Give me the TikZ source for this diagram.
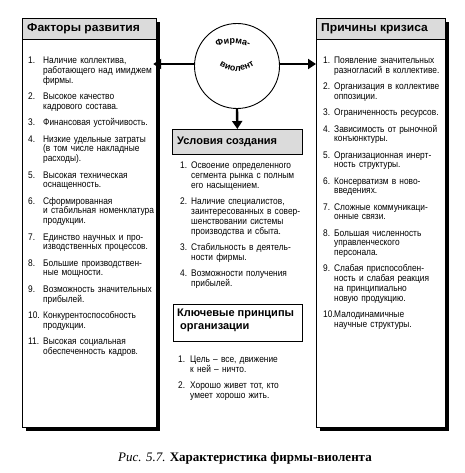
\documentclass[tikz,border=0pt]{standalone}
\usepackage{fontspec}
\setmainfont{Liberation Serif}
\newfontfamily\narrowsans[FakeStretch=0.87]{Liberation Sans}
\newfontfamily\widesans{Liberation Sans}
\newfontfamily\broadsans[FakeStretch=1.05]{Liberation Sans}
\usetikzlibrary{arrows.meta,decorations.text,shadows,positioning}

\newlength\numwd
\newcommand\listentry[2]{\hangindent=\numwd\hangafter=1\noindent
  \hbox to\numwd{#1\hfil}#2\par}
\newcommand\listfont{\narrowsans\fontsize{9.6}{9.8}\selectfont}
\newcommand\headfont{\widesans\bfseries\fontsize{11}{13}\selectfont}
\newcommand\sidefont{\broadsans\bfseries\fontsize{11.5}{14}\selectfont}
\newcommand\circfont{\widesans\bfseries\fontsize{9}{10}\selectfont}

\begin{document}
\begin{tikzpicture}[x=1pt, y=-1pt, >=Stealth,
  panel/.style={draw, fill=white, line width=0.7pt, anchor=north west, inner sep=0pt,
    drop shadow={shadow xshift=3.5pt, shadow yshift=-3.5pt, fill=black, opacity=1}},
  headband/.style={draw, line width=0.7pt, fill=black!14},
  headtext/.style={anchor=west, inner sep=0pt, font=\headfont},
  itemlist/.style={anchor=north west, inner sep=0pt, align=left, font=\listfont},
  bigarrow/.style={-{Triangle[length=8pt,width=10pt]}, line width=2.4pt}]
  \useasboundingbox (0,0) rectangle (464,473);

  % left panel: development factors
  \node[panel, minimum width=134pt, minimum height=409pt] (factors) at (22,18) {};
  \draw[headband] (factors.north west) rectangle ++(134,21);
  \node[headtext, font=\sidefont] (factors head) at (27,29) {Факторы развития};
  \node[itemlist, text width=128pt] (factors list) at (28,57) {%
    \setlength\numwd{15pt}\setlength\parskip{6.5pt}%
    \listentry{1.}{Наличие коллектива,\newline работающего над имиджем\newline фирмы.}
    \listentry{2.}{Высокое качество\newline кадрового состава.}
    \listentry{3.}{Финансовая устойчивость.}
    \listentry{4.}{Низкие удельные затраты\newline (в том числе накладные\newline расходы).}
    \listentry{5.}{Высокая техническая\newline оснащенность.}
    \listentry{6.}{Сформированная\newline и стабильная номенклатура\newline продукции.}
    \listentry{7.}{Единство научных и про-\newline изводственных процессов.}
    \listentry{8.}{Большие производствен-\newline ные мощности.}
    \listentry{9.}{Возможность значительных\newline прибылей.}
    \listentry{10.}{Конкурентоспособность\newline продукции.}
    \listentry{11.}{Высокая социальная\newline обеспеченность кадров.}};

  % right panel: causes of crisis
  \node[panel, minimum width=129pt, minimum height=409pt] (causes) at (316,18) {};
  \draw[headband] (causes.north west) rectangle ++(129,21);
  \node[headtext, font=\sidefont] (causes head) at (321,29) {Причины кризиса};
  \node[itemlist, text width=122pt] (causes list) at (323,57) {%
    \setlength\numwd{11pt}\setlength\parskip{6.4pt}%
    \listentry{1.}{Появление значительных\newline разногласий в коллективе.}
    \listentry{2.}{Организация в коллективе\newline оппозиции.}
    \listentry{3.}{Ограниченность ресурсов.}
    \listentry{4.}{Зависимость от рыночной\newline конъюнктуры.}
    \listentry{5.}{Организационная инерт-\newline ность структуры.}
    \listentry{6.}{Консерватизм в ново-\newline введениях.}
    \listentry{7.}{Сложные коммуникаци-\newline онные связи.}
    \listentry{8.}{Большая численность\newline управленческого\newline персонала.}
    \listentry{9.}{Слабая приспособлен-\newline ность и слабая реакция\newline на принципиально\newline новую продукцию.}
    \listentry{10.}{Малодинамичные\newline научные структуры.}};

  % firm in the middle
  \node[draw, circle, line width=0.9pt, minimum size=85pt, inner sep=0pt] (firm) at (237,66) {};
  \coordinate (firm top) at ([shift={(-4,20)}]firm.center);
  \coordinate (firm low) at ([shift={(0,-27)}]firm.center);
  \path[decorate, decoration={text along path, text align=center, text={|\circfont|Фирма-}}]
    ([shift={(240:42.5)}]firm top) arc (240:300:42.5);
  \path[decorate, decoration={text along path, text align=center, text={|\circfont|виолент}}]
    ([shift={(132:32)}]firm low) arc (132:48:32);

  % conditions of creation
  \node[headband, anchor=north west, minimum width=130pt, minimum height=25pt, inner sep=0pt]
    (conditions) at (172,129) {};
  \node[headtext] (conditions head) at (177,142) {Условия создания};
  \node[itemlist, text width=122pt] (conditions list) at (180,162) {%
    \setlength\numwd{11pt}\setlength\parskip{6.6pt}%
    \listentry{1.}{Освоение определенного\newline сегмента рынка с полным\newline его насыщением.}
    \listentry{2.}{Наличие специалистов,\newline заинтересованных в совер-\newline шенствовании системы\newline производства и сбыта.}
    \listentry{3.}{Стабильность в деятель-\newline ности фирмы.}
    \listentry{4.}{Возможности получения\newline прибылей.}};

  % key principles
  \node[draw, line width=0.8pt, anchor=north west, minimum width=129pt, minimum height=37pt,
    inner sep=0pt] (principles) at (173,304) {};
  \node[headtext, anchor=north west, align=left] (principles head) at (177,309)
    {Ключевые принципы\\\hspace{3pt}организации};
  \node[itemlist, text width=122pt] (principles list) at (178,356) {%
    \setlength\numwd{12pt}\setlength\parskip{6.4pt}%
    \listentry{1.}{Цель – все, движение\newline к ней – ничто.}
    \listentry{2.}{Хорошо живет тот, кто\newline умеет хорошо жить.}};

  % arrows
  \draw[bigarrow, shorten >=-3.5pt] ([yshift=2pt]firm.west) -- ([yshift=2pt]firm.west -| factors.east);
  \draw[bigarrow] ([yshift=2pt]firm.east) -- ([yshift=2pt]firm.east -| causes.west);
  \draw[bigarrow] (firm.south) -- (conditions.north);

  % caption
  \node[font=\fontsize{13}{15}\selectfont] (caption) at (245,458)
    {\textit{Рис. 5.7.} \textbf{Характеристика фирмы-виолента}};
\end{tikzpicture}
\end{document}
